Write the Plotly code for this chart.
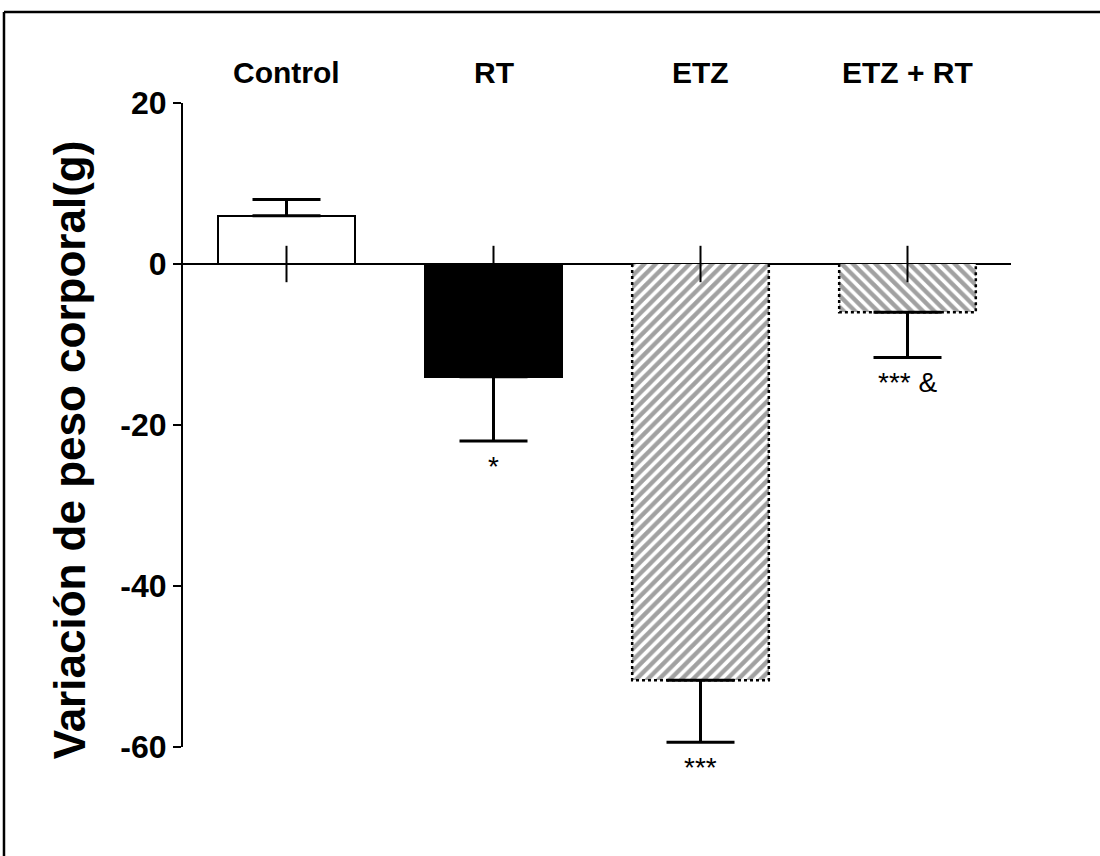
import plotly.graph_objects as go

categories = ["Control", "RT", "ETZ", "ETZ + RT"]
means = [6.0, -14.0, -51.7, -6.0]
sem = [2.0, 8.0, 7.7, 5.6]
significance = ["", "*", "***", "*** &"]
y_ticks = [20, 0, -20, -40, -60]

fill_colors = ["white", "black", "white", "white"]
patterns = ["", "", "/", "\\"]
dotted_outline = [False, False, True, True]

BAR_W = 0.66
x_idx = list(range(len(categories)))
err_plus = [s if m >= 0 else 0 for m, s in zip(means, sem)]
err_minus = [s if m < 0 else 0 for m, s in zip(means, sem)]
line_widths = [0 if d else 2 for d in dotted_outline]

FONT = "Liberation Sans, Arial, DejaVu Sans"

fig = go.Figure()
fig.add_trace(go.Bar(
    x=x_idx, y=means, width=BAR_W,
    marker=dict(color=fill_colors,
                line=dict(color="black", width=line_widths),
                pattern=dict(shape=patterns, fgcolor="black", bgcolor="white",
                             size=8, solidity=0.55)),
    error_y=dict(type="data", symmetric=False, array=err_plus, arrayminus=err_minus,
                 color="black", thickness=3, width=34),
    showlegend=False, hoverinfo="skip",
))
# dotted outlines of hatched bars, built from the data
for i, (m, d) in enumerate(zip(means, dotted_outline)):
    if d:
        fig.add_trace(go.Scatter(
            x=[i - BAR_W / 2, i - BAR_W / 2, i + BAR_W / 2, i + BAR_W / 2],
            y=[0, m, m, 0], mode="lines",
            line=dict(color="black", width=2.5, dash="dot"),
            showlegend=False, hoverinfo="skip",
        ))
# category ticks crossing zero line
fig.add_trace(go.Scatter(
    x=x_idx, y=[0] * len(categories), mode="markers",
    marker=dict(symbol="line-ns", size=26, line=dict(color="black", width=2)),
    showlegend=False, hoverinfo="skip", cliponaxis=False,
))

annotations = []
for i, c in enumerate(categories):
    annotations.append(dict(x=i, y=1, xref="x", yref="paper", text="<b>" + c + "</b>",
                            showarrow=False, yanchor="middle", yshift=31,
                            font=dict(family=FONT, size=30, color="black")))
for i, (m, s, t) in enumerate(zip(means, sem, significance)):
    if t:
        end = m + s if m >= 0 else m - s
        annotations.append(dict(x=i, y=end, xref="x", yref="y", text=t,
                                showarrow=False, yanchor="middle", yshift=-25,
                                font=dict(family=FONT, size=28, color="black")))
annotations.append(dict(x=-0.1375, y=0.461, xref="paper", yref="paper",
                        text="<b>Variación de peso corporal(g)</b>", textangle=-90,
                        showarrow=False, xanchor="center", yanchor="middle",
                        font=dict(family=FONT, size=44, color="black")))

shapes = [
    dict(type="line", xref="paper", yref="paper", x0=-0.2162, x1=-0.2162, y0=-0.2, y1=1.1413,
         line=dict(color="black", width=2.5)),
    dict(type="line", xref="paper", yref="paper", x0=-0.2162, x1=1.12, y0=1.1413, y1=1.1413,
         line=dict(color="black", width=2.5)),
]

fig.update_layout(
    width=1100, height=856,
    margin=dict(l=183, r=89, t=103, b=109),
    paper_bgcolor="white", plot_bgcolor="white",
    xaxis=dict(range=[-0.5, 3.5], showticklabels=False, showline=False, ticks="",
               showgrid=False, zeroline=False),
    yaxis=dict(range=[-60, 20], tickvals=y_ticks,
               ticktext=["<b>" + str(v) + "</b>" for v in y_ticks],
               showline=True, linecolor="black", linewidth=2,
               ticks="outside", ticklen=8, tickwidth=2, tickcolor="black",
               showgrid=False, zeroline=True, zerolinecolor="black", zerolinewidth=2,
               tickfont=dict(family=FONT, size=32, color="black")),
    annotations=annotations, shapes=shapes, bargap=0,
)
fig.write_html("out.html")
